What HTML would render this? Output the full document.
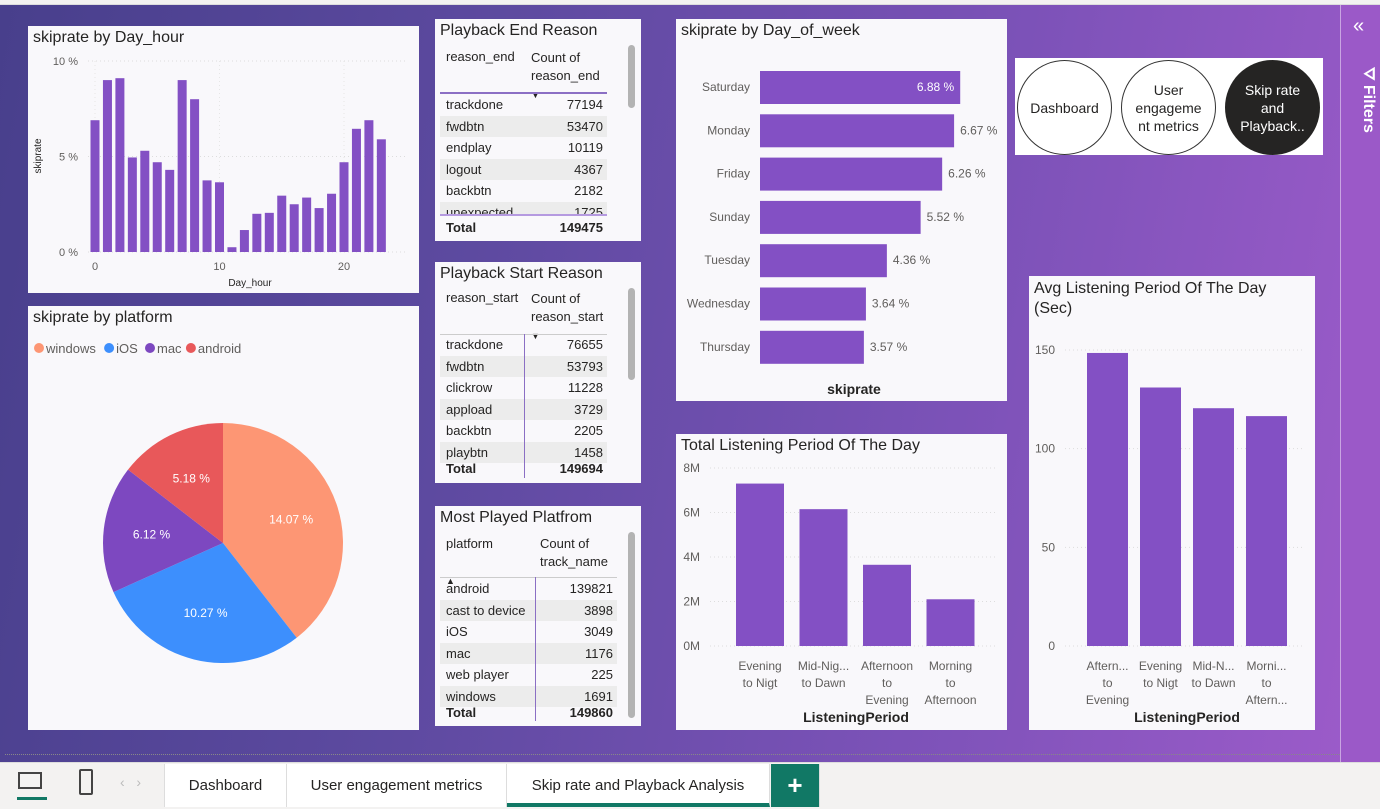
<!DOCTYPE html>
<html><head><meta charset="utf-8">
<style>
*{box-sizing:border-box;margin:0;padding:0}
body{width:1380px;height:809px;overflow:hidden;font-family:"Liberation Sans",sans-serif;position:relative;background:#fff}
.abs{position:absolute}
#canvas{position:absolute;left:0;top:5px;width:1340px;height:757px;background:linear-gradient(100deg,#483f8c 0%,#5d4aa0 35%,#7c52b8 70%,#9b5bc9 100%)}
.panel{position:absolute;background:#f9f8fb}
.title{position:absolute;left:5px;top:3px;font-size:16px;color:#252423;white-space:nowrap}
.tbl{position:absolute;font-size:13px;color:#252423}
.row{position:absolute;left:5px;width:167px;height:21px;line-height:21px;font-size:13px;color:#252423}
.row span{position:absolute}
.row .v{right:4px}
.row .k{left:6px}
.alt{background:#ececec}
.sb{position:absolute;right:6px;width:7px;background:#b3b3b3;border-radius:4px}
.tab{position:absolute;top:764px;height:43px;line-height:43px;font-size:15px;color:#252423;text-align:center;border-right:1px solid #ddd;background:#fff}
</style></head><body>
<div class="abs" style="left:0;top:0;width:1380px;height:5px;background:#f3f2f1;border-bottom:1px solid #ddd"></div>
<div id="canvas"></div>
<div class="abs" style="left:5px;top:754px;width:1335px;border-top:1px dotted #888"></div>
<div class="abs" style="left:1340px;top:5px;width:40px;height:757px;background:#9b59c8;border-left:1px solid #c9a5e2">
 <div style="position:absolute;left:12px;top:10px;color:#fff;font-size:20px">«</div>
 <div style="position:absolute;left:4px;top:62px;color:#fff;font-size:16px;font-weight:bold;transform:rotate(90deg);transform-origin:16px 16px;white-space:nowrap">⛛ Filters</div>
</div>

<div class="panel" style="left:28px;top:26px;width:391px;height:267px">
 <div class="title">skiprate by Day_hour</div>
 <svg id="hourSvg" width="391" height="267" style="position:absolute;left:0;top:0"></svg>
</div>

<div class="panel" style="left:28px;top:306px;width:391px;height:424px">
 <div class="title">skiprate by platform</div>
 <svg id="pieSvg" width="391" height="424" style="position:absolute;left:0;top:0"></svg>
</div>

<div class="panel" style="left:435px;top:19px;width:206px;height:222px">
 <div class="title">Playback End Reason</div>
 <div class="tbl" style="left:11px;top:30px">reason_end</div>
 <div class="tbl" style="left:96px;top:30px;line-height:18px">Count of<br>reason_end<br><span style="font-size:9px">▼</span></div>
 <div class="abs" style="left:5px;top:73px;width:167px;border-top:2px solid #8b6fc4"></div>
 <div id="endRows"></div>
 <div class="abs" style="left:5px;top:195px;width:167px;border-top:2px solid #b59ae0"></div>
 <div class="row" style="top:198px;font-weight:bold"><span class="k">Total</span><span class="v">149475</span></div>
 <div class="sb" style="top:26px;height:63px"></div>
</div>
<div class="panel" style="left:435px;top:262px;width:206px;height:221px">
 <div class="title">Playback Start Reason</div>
 <div class="tbl" style="left:11px;top:28px">reason_start</div>
 <div class="tbl" style="left:96px;top:28px;line-height:18px">Count of<br>reason_start<br><span style="font-size:9px">▼</span></div>
 <div class="abs" style="left:5px;top:72px;width:167px;border-top:1px solid #ccc"></div>
 <div id="startRows"></div>
 <div class="abs" style="left:89px;top:72px;height:144px;border-left:1px solid #8b6fc4"></div>
 <div class="row" style="top:196px;font-weight:bold"><span class="k">Total</span><span class="v">149694</span></div>
 <div class="sb" style="top:26px;height:92px"></div>
</div>
<div class="panel" style="left:435px;top:506px;width:206px;height:220px">
 <div class="title">Most Played Platfrom</div>
 <div class="tbl" style="left:11px;top:29px;line-height:18px">platform<br><br><span style="font-size:9px">▲</span></div>
 <div class="tbl" style="left:105px;top:29px;line-height:18px">Count of<br>track_name</div>
 <div class="abs" style="left:5px;top:71px;width:177px;border-top:1px solid #ccc"></div>
 <div id="platRows"></div>
 <div class="abs" style="left:100px;top:71px;height:144px;border-left:1px solid #8b6fc4"></div>
 <div class="row" style="top:196px;width:177px;font-weight:bold"><span class="k">Total</span><span class="v">149860</span></div>
 <div class="sb" style="top:26px;height:186px"></div>
</div>

<div class="panel" style="left:676px;top:19px;width:331px;height:382px">
 <div class="title">skiprate by Day_of_week</div>
 <svg id="dowSvg" width="331" height="382" style="position:absolute;left:0;top:0"></svg>
</div>

<div class="panel" style="left:1015px;top:58px;width:308px;height:97px;background:#fff">
 <div class="abs" style="left:2px;top:2px;width:95px;height:95px;border:1px solid #333;border-radius:50%;font-size:14px;color:#252423;display:flex;align-items:center;justify-content:center">Dashboard</div>
 <div class="abs" style="left:106px;top:2px;width:95px;height:95px;border:1px solid #333;border-radius:50%;font-size:14px;color:#252423;display:flex;align-items:center;justify-content:center;text-align:center;line-height:18px">User<br>engageme<br>nt metrics</div>
 <div class="abs" style="left:210px;top:2px;width:95px;height:95px;background:#252423;border-radius:50%;font-size:14px;color:#fff;display:flex;align-items:center;justify-content:center;text-align:center;line-height:18px">Skip rate<br>and<br>Playback..</div>
</div>

<div class="panel" style="left:676px;top:434px;width:331px;height:296px">
 <div class="title">Total Listening Period Of The Day</div>
 <svg id="totSvg" width="331" height="296" style="position:absolute;left:0;top:0"></svg>
</div>

<div class="panel" style="left:1029px;top:276px;width:286px;height:454px">
 <div class="title" style="line-height:20px">Avg Listening Period Of The Day<br>(Sec)</div>
 <svg id="avgSvg" width="286" height="454" style="position:absolute;left:0;top:0"></svg>
</div>

<div class="abs" style="left:0;top:762px;width:1380px;height:47px;background:#f3f2f1;border-top:1px solid #ddd"></div>
<div class="abs" style="left:18px;top:772px;width:24px;height:17px;border:2px solid #444"></div>
<div class="abs" style="left:17px;top:797px;width:30px;height:3px;background:#117865"></div>
<div class="abs" style="left:79px;top:769px;width:14px;height:26px;border:2px solid #444;border-radius:2px"></div>
<div class="abs" style="left:120px;top:774px;font-size:14px;color:#bbb">‹ &nbsp; ›</div>
<div class="tab" style="left:164px;width:123px;border-left:1px solid #ddd">Dashboard</div>
<div class="tab" style="left:287px;width:220px">User engagement metrics</div>
<div class="tab" style="left:507px;width:263px;border-bottom:4px solid #117865">Skip rate and Playback Analysis</div>
<div class="tab" style="left:771px;width:49px;background:#117865;color:#fff;font-size:26px;font-weight:bold">+</div>

<script>
const NS="http://www.w3.org/2000/svg";
function mk(p,t,a,txt){const e=document.createElementNS(NS,t);for(const k in a)e.setAttribute(k,a[k]);if(txt!==undefined)e.textContent=txt;p.appendChild(e);return e;}
const PURPLE="#8350c4";

const hourVals=[6.9,9.0,9.1,4.95,5.3,4.7,4.3,9.0,8.0,3.75,3.65,0.25,1.15,2.0,2.05,2.95,2.5,2.85,2.3,3.05,4.7,6.45,6.9,5.9];
const hourYTicks=[0,5,10];
const hourXTicks=[0,10,20];
const dowCats=["Saturday","Monday","Friday","Sunday","Tuesday","Wednesday","Thursday"];
const dowVals=[6.88,6.67,6.26,5.52,4.36,3.64,3.57];
const pieCats=["windows","iOS","mac","android"];
const pieVals=[14.07,10.27,6.12,5.18];
const pieColors=["#fd9674","#3d8ffd","#7d48c0","#e8585a"];
const totCats=[["Evening","to Nigt"],["Mid-Nig...","to Dawn"],["Afternoon","to","Evening"],["Morning","to","Afternoon"]];
const totVals=[7.3,6.15,3.65,2.1];
const totTicks=[0,2,4,6,8];
const avgCats=[["Aftern...","to","Evening"],["Evening","to Nigt"],["Mid-N...","to Dawn"],["Morni...","to","Aftern..."]];
const avgVals=[148.5,131,120.5,116.5];
const avgTicks=[0,50,100,150];
const endKeys=["trackdone","fwdbtn","endplay","logout","backbtn","unexpected"];
const endVals=[77194,53470,10119,4367,2182,1725];
const startKeys=["trackdone","fwdbtn","clickrow","appload","backbtn","playbtn"];
const startVals=[76655,53793,11228,3729,2205,1458];
const platKeys=["android","cast to device","iOS","mac","web player","windows"];
const platVals=[139821,3898,3049,1176,225,1691];

(function(){
 const s=document.getElementById("hourSvg");
 const y=v=>226-v/10*191, x=h=>67+h*12.45;
 hourYTicks.forEach(t=>{mk(s,"line",{x1:60,x2:380,y1:y(t),y2:y(t),stroke:"#ddd","stroke-dasharray":"1 3"});
  mk(s,"text",{x:50,y:y(t)+4,"text-anchor":"end","font-size":11,fill:"#605e5c"},t+" %");});
 hourXTicks.forEach(t=>{mk(s,"line",{x1:x(t),x2:x(t),y1:35,y2:226,stroke:"#e6e6e6","stroke-dasharray":"1 3"});
  mk(s,"text",{x:x(t),y:244,"text-anchor":"middle","font-size":11,fill:"#605e5c"},t);});
 hourVals.forEach((v,i)=>{const r=mk(s,"rect",{x:x(i)-4.5,y:y(v),width:9,height:226-y(v),fill:PURPLE});
  
  });
 mk(s,"text",{x:222,y:260,"text-anchor":"middle","font-size":10,fill:"#252423"},"Day_hour");
 mk(s,"text",{x:13,y:130,"text-anchor":"middle","font-size":10,fill:"#252423",transform:"rotate(-90 13 130)"},"skiprate");
})();

(function(){
 const s=document.getElementById("pieSvg");
 const cx=195,cy=237,R=120,tot=pieVals.reduce((a,b)=>a+b,0);
 let lx=5;
 pieCats.forEach((c,i)=>{mk(s,"circle",{cx:lx+6,cy:42,r:5,fill:pieColors[i]});
  const t=mk(s,"text",{x:lx+13,y:47,"font-size":13,fill:"#605e5c"},c);
  
  
  lx+=13+c.length*7.3+6;});
 let a0=0;
 pieVals.forEach((v,i)=>{const a1=a0+v/tot*2*Math.PI;
  const p=a=>[cx+R*Math.sin(a),cy-R*Math.cos(a)];
  const [x0,y0]=p(a0),[x1,y1]=p(a1);
  const path=mk(s,"path",{d:`M${cx},${cy}L${x0},${y0}A${R},${R} 0 ${a1-a0>Math.PI?1:0} 1 ${x1},${y1}Z`,fill:pieColors[i]});
  
  
  const am=(a0+a1)/2;
  mk(s,"text",{x:cx+R*0.6*Math.sin(am),y:cy-R*0.6*Math.cos(am)+4,"text-anchor":"middle","font-size":12,fill:"#fff"},v.toFixed(2)+" %");
  a0=a1;});
})();

function fillTable(id,keys,vals,top,w){
 const c=document.getElementById(id);
 keys.forEach((k,i)=>{const d=document.createElement("div");
  d.className="row"+(i%2?" alt":"");
  d.style.top=(top+i*21.5)+"px";d.style.width=w+"px";
  d.innerHTML=`<span class="k">${k}</span><span class="v">${vals[i]}</span>`;
  
  
  c.appendChild(d);});
}
fillTable("endRows",endKeys,endVals,75,167);
document.getElementById("endRows").lastChild.style.height="13px";
document.getElementById("endRows").lastChild.style.overflow="hidden";
fillTable("startRows",startKeys,startVals,72,167);
fillTable("platRows",platKeys,platVals,72,177);

(function(){
 const s=document.getElementById("dowSvg");
 const x=v=>84+v*29.1;
 dowCats.forEach((c,i)=>{const cy=68+i*43.3;
  mk(s,"text",{x:74,y:cy+4,"text-anchor":"end","font-size":12,fill:"#605e5c"},c);
  const r=mk(s,"rect",{x:84,y:cy-16,width:x(dowVals[i])-84,height:33,fill:PURPLE});
  
  
  const inside=i===0;
  mk(s,"text",{x:inside?x(dowVals[i])-6:x(dowVals[i])+6,y:cy+4,"text-anchor":inside?"end":"start","font-size":12,fill:inside?"#fff":"#605e5c"},dowVals[i].toFixed(2)+" %");});
 mk(s,"text",{x:178,y:375,"text-anchor":"middle","font-size":14,"font-weight":"bold",fill:"#252423"},"skiprate");
})();

function cols(id,cats,vals,ticks,fmt,base,top,max,x0,step,bw,xl,pre){
 const s=document.getElementById(id);
 const y=v=>base-v/max*(base-top);
 ticks.forEach(t=>{mk(s,"line",{x1:xl+10,x2:s.getAttribute("width")-10,y1:y(t),y2:y(t),stroke:"#ddd","stroke-dasharray":"1 3"});
  mk(s,"text",{x:xl,y:y(t)+4,"text-anchor":"end","font-size":12,fill:"#605e5c"},fmt(t));});
 vals.forEach((v,i)=>{const bx=x0+i*step;
  const r=mk(s,"rect",{x:bx,y:y(v),width:bw,height:base-y(v),fill:PURPLE});
  
  
  cats[i].forEach((l,j)=>mk(s,"text",{x:bx+bw/2,y:base+24+j*17,"text-anchor":"middle","font-size":12,fill:"#605e5c"},l));});
}
cols("totSvg",totCats,totVals,totTicks,t=>t+"M",212,34,8,60,63.5,48,24,"total");
mk(document.getElementById("totSvg"),"text",{x:180,y:288,"text-anchor":"middle","font-size":14,"font-weight":"bold",fill:"#252423"},"ListeningPeriod");
cols("avgSvg",avgCats,avgVals,avgTicks,t=>t,370,74,150,58,53,41,26,"avg");
mk(document.getElementById("avgSvg"),"text",{x:158,y:446,"text-anchor":"middle","font-size":14,"font-weight":"bold",fill:"#252423"},"ListeningPeriod");
</script>
</body></html>
